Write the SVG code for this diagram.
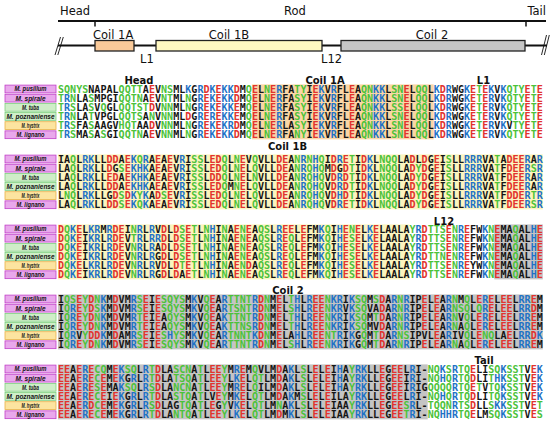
<svg xmlns="http://www.w3.org/2000/svg" width="550" height="424" viewBox="0 0 550 424">
<style>
.t{font-family:"DejaVu Sans",sans-serif;font-size:11.5px;fill:#111}
.h{font-family:"DejaVu Sans",sans-serif;font-weight:bold;font-size:10px;fill:#111;text-anchor:middle}
.s{font-family:"DejaVu Sans Mono",monospace;font-weight:bold;font-size:10.07px;fill:#151515}
.r{fill:#e2332e}.b{fill:#1f72c6}.g{fill:#4cc23a}
.l{font-family:"Liberation Sans",Arial,sans-serif;font-weight:bold;font-style:italic;font-size:7px;fill:#111;text-anchor:middle}
.pk{fill:#e9a8ec;stroke:#c040c8;stroke-width:0.8}
.gn{fill:#cfeec8;stroke:#80d080;stroke-width:0.8}
.yw{fill:#fce4a0;stroke:#e8b048;stroke-width:0.8}
.ln{stroke:#111;fill:none}
.box{stroke:#222;stroke-width:1.3}
</style>
<rect width="550" height="424" fill="#fff"/>
<g id="connectors">
<line class="ln" x1="58" y1="21" x2="546" y2="21" stroke-width="1.8"/>
<line class="ln" x1="95" y1="21" x2="95" y2="26.5" stroke-width="1.5"/>
<line class="ln" x1="526" y1="21" x2="526" y2="26.5" stroke-width="1.5"/>
<line class="ln" x1="58" y1="45.5" x2="547" y2="45.5" stroke-width="2"/>
<path class="ln" d="M55 55 L60.5 37 M57.8 55 L63.3 37" stroke-width="0.9"/>
<path class="ln" d="M541.5 55 L546.5 35 M544.3 55 L549.3 35" stroke-width="0.9"/>
</g>
<g id="top-labels">
<text class="t" x="60" y="15">Head</text>
<text class="t" x="295" y="15" text-anchor="middle">Rod</text>
<text class="t" x="546" y="15" text-anchor="end">Tail</text>
<text class="t" x="140" y="62.5">L1</text>
<text class="t" x="321" y="62.5">L12</text>
</g>
<g id="coil1a-box"><rect class="box" x="95" y="40.5" width="39" height="10.5" fill="#f9c999"/><text class="t" x="93" y="38.8">Coil 1A</text></g>
<g id="coil1b-box"><rect class="box" x="156" y="40.5" width="166" height="10.5" fill="#fff8c2"/><text class="t" x="229" y="38.8" text-anchor="middle">Coil 1B</text></g>
<g id="coil2-box"><rect class="box" x="341" y="40.5" width="184" height="10.5" fill="#c6c6c6"/><text class="t" x="432" y="38.8" text-anchor="middle">Coil 2</text></g>

<g id="block1">
<rect x="251.9" y="84.4" width="181.8" height="55" fill="#f9d6a6"/>
<text class="h" x="139" y="83.5">Head</text><text class="h" x="325" y="83.5">Coil 1A</text><text class="h" x="483.5" y="83.5">L1</text>
<g id="b1-pusillum"><rect class="pk" x="5" y="85.1" width="51" height="7.8"/><text class="l" x="30.5" y="91.4" textLength="32" lengthAdjust="spacingAndGlyphs">M. pusillum</text>
<text class="s" x="58" y="92.6" textLength="484.8" lengthAdjust="spacing"><tspan class="g">SQNYS</tspan>NAPAL<tspan class="g">QQTT</tspan>A<tspan class="r">E</tspan>V<tspan class="g">NS</tspan>ML<tspan class="b">K</tspan>G<tspan class="b">R</tspan><tspan class="r">D</tspan><tspan class="b">K</tspan><tspan class="r">E</tspan><tspan class="b">KK</tspan><tspan class="r">D</tspan>M<tspan class="g">Q</tspan><tspan class="r">E</tspan>L<tspan class="g">N</tspan><tspan class="r">E</tspan><tspan class="b">R</tspan>FA<tspan class="g">TY</tspan>I<tspan class="r">E</tspan><tspan class="b">K</tspan>V<tspan class="b">R</tspan>FL<tspan class="r">E</tspan>A<tspan class="g">QN</tspan><tspan class="b">KK</tspan>L<tspan class="g">SN</tspan><tspan class="r">E</tspan>L<tspan class="g">QQ</tspan>L<tspan class="b">K</tspan><tspan class="r">D</tspan><tspan class="b">R</tspan>WG<tspan class="b">K</tspan><tspan class="r">E</tspan><tspan class="g">T</tspan><tspan class="r">E</tspan><tspan class="b">K</tspan>V<tspan class="b">K</tspan><tspan class="g">QTY</tspan><tspan class="r">E</tspan><tspan class="g">T</tspan><tspan class="r">E</tspan></text></g>
<g id="b1-spirale"><rect class="pk" x="5" y="94.25" width="51" height="7.8"/><text class="l" x="30.5" y="100.55" textLength="30" lengthAdjust="spacingAndGlyphs">M. spirale</text>
<text class="s" x="58" y="101.75" textLength="484.8" lengthAdjust="spacing"><tspan class="g">T</tspan><tspan class="b">R</tspan><tspan class="g">N</tspan>LA<tspan class="g">S</tspan>MPGI<tspan class="g">QQTN</tspan>A<tspan class="r">E</tspan>V<tspan class="g">NT</tspan>ML<tspan class="g">N</tspan>G<tspan class="b">R</tspan><tspan class="r">E</tspan><tspan class="b">K</tspan><tspan class="r">E</tspan><tspan class="b">KK</tspan><tspan class="r">D</tspan>M<tspan class="g">Q</tspan><tspan class="r">E</tspan>L<tspan class="g">N</tspan><tspan class="r">E</tspan><tspan class="b">R</tspan>FA<tspan class="g">SY</tspan>I<tspan class="r">E</tspan><tspan class="b">K</tspan>V<tspan class="b">R</tspan>FL<tspan class="r">E</tspan>A<tspan class="g">QN</tspan><tspan class="b">KK</tspan>L<tspan class="g">SN</tspan><tspan class="r">E</tspan>L<tspan class="g">QQ</tspan>L<tspan class="b">K</tspan><tspan class="r">D</tspan><tspan class="b">R</tspan>WG<tspan class="b">K</tspan><tspan class="r">E</tspan><tspan class="g">T</tspan><tspan class="r">E</tspan><tspan class="b">R</tspan>V<tspan class="b">K</tspan><tspan class="g">QTY</tspan><tspan class="r">E</tspan><tspan class="g">T</tspan><tspan class="r">E</tspan></text></g>
<g id="b1-tuba"><rect class="gn" x="5" y="103.4" width="51" height="7.8"/><text class="l" x="30.5" y="109.7" textLength="17" lengthAdjust="spacingAndGlyphs">M. tuba</text>
<text class="s" x="58" y="110.9" textLength="484.8" lengthAdjust="spacing"><tspan class="g">T</tspan><tspan class="b">R</tspan><tspan class="g">S</tspan>LA<tspan class="g">S</tspan>V<tspan class="g">Q</tspan>GL<tspan class="g">QQTST</tspan><tspan class="r">D</tspan>V<tspan class="g">NN</tspan>ML<tspan class="g">N</tspan>G<tspan class="b">R</tspan><tspan class="r">E</tspan><tspan class="b">K</tspan><tspan class="r">E</tspan><tspan class="b">KK</tspan><tspan class="r">E</tspan>M<tspan class="g">Q</tspan><tspan class="r">E</tspan>L<tspan class="g">N</tspan><tspan class="r">E</tspan><tspan class="b">R</tspan>FA<tspan class="g">SY</tspan>I<tspan class="r">E</tspan><tspan class="b">K</tspan>V<tspan class="b">R</tspan>FL<tspan class="r">E</tspan>A<tspan class="g">QN</tspan><tspan class="b">KK</tspan>L<tspan class="g">SS</tspan><tspan class="r">E</tspan>L<tspan class="g">QQ</tspan>L<tspan class="b">K</tspan><tspan class="r">D</tspan><tspan class="b">R</tspan>WG<tspan class="b">K</tspan><tspan class="r">E</tspan><tspan class="g">T</tspan><tspan class="r">E</tspan><tspan class="b">R</tspan>V<tspan class="b">K</tspan><tspan class="g">QTY</tspan><tspan class="r">E</tspan><tspan class="g">T</tspan><tspan class="r">E</tspan></text></g>
<g id="b1-poznaniense"><rect class="gn" x="5" y="112.55" width="51" height="7.8"/><text class="l" x="30.5" y="118.85" textLength="48" lengthAdjust="spacingAndGlyphs">M. poznaniense</text>
<text class="s" x="58" y="120.05" textLength="484.8" lengthAdjust="spacing"><tspan class="g">T</tspan><tspan class="b">R</tspan><tspan class="g">N</tspan>LA<tspan class="g">T</tspan>VPGL<tspan class="g">QQTS</tspan>A<tspan class="g">N</tspan>V<tspan class="g">NN</tspan>ML<tspan class="r">D</tspan>G<tspan class="b">R</tspan><tspan class="r">E</tspan><tspan class="b">R</tspan><tspan class="r">E</tspan><tspan class="b">KK</tspan><tspan class="r">E</tspan>M<tspan class="g">Q</tspan><tspan class="r">E</tspan>L<tspan class="g">N</tspan><tspan class="r">E</tspan><tspan class="b">R</tspan>FA<tspan class="g">SY</tspan>I<tspan class="r">E</tspan><tspan class="b">K</tspan>V<tspan class="b">R</tspan>FL<tspan class="r">E</tspan>A<tspan class="g">QN</tspan><tspan class="b">KK</tspan>L<tspan class="g">SN</tspan><tspan class="r">E</tspan>L<tspan class="g">QQ</tspan>L<tspan class="b">K</tspan><tspan class="r">D</tspan><tspan class="b">R</tspan>WG<tspan class="b">K</tspan><tspan class="r">E</tspan><tspan class="g">T</tspan><tspan class="r">E</tspan><tspan class="b">R</tspan>V<tspan class="b">K</tspan><tspan class="g">QTY</tspan><tspan class="r">E</tspan><tspan class="g">T</tspan><tspan class="r">E</tspan></text></g>
<g id="b1-hystrix"><rect class="yw" x="5" y="121.7" width="51" height="7.8"/><text class="l" x="30.5" y="128" textLength="18" lengthAdjust="spacingAndGlyphs">M. hystrix</text>
<text class="s" x="58" y="129.2" textLength="484.8" lengthAdjust="spacing"><tspan class="g">T</tspan><tspan class="b">R</tspan><tspan class="g">S</tspan>FA<tspan class="g">S</tspan>AAGV<tspan class="g">HQT</tspan>AA<tspan class="r">D</tspan>V<tspan class="g">NN</tspan>ML<tspan class="g">N</tspan>G<tspan class="b">R</tspan><tspan class="r">E</tspan><tspan class="b">K</tspan><tspan class="r">E</tspan><tspan class="b">KR</tspan><tspan class="r">D</tspan>M<tspan class="g">Q</tspan><tspan class="r">E</tspan>L<tspan class="g">N</tspan><tspan class="r">E</tspan><tspan class="b">R</tspan>LA<tspan class="g">SY</tspan>I<tspan class="r">E</tspan><tspan class="b">K</tspan>V<tspan class="b">R</tspan>FL<tspan class="r">E</tspan>A<tspan class="g">QN</tspan><tspan class="b">KK</tspan>L<tspan class="g">SN</tspan><tspan class="r">E</tspan>L<tspan class="g">QQ</tspan>L<tspan class="b">K</tspan><tspan class="r">D</tspan><tspan class="b">R</tspan>WG<tspan class="b">K</tspan><tspan class="r">E</tspan><tspan class="g">T</tspan><tspan class="r">E</tspan><tspan class="b">R</tspan>V<tspan class="b">K</tspan>V<tspan class="g">TY</tspan><tspan class="r">E</tspan><tspan class="g">T</tspan><tspan class="r">E</tspan></text></g>
<g id="b1-lignano"><rect class="pk" x="5" y="130.85" width="51" height="7.8"/><text class="l" x="30.5" y="137.15" textLength="28" lengthAdjust="spacingAndGlyphs">M. lignano</text>
<text class="s" x="58" y="138.35" textLength="484.8" lengthAdjust="spacing"><tspan class="g">T</tspan><tspan class="b">R</tspan><tspan class="g">S</tspan>MA<tspan class="g">S</tspan>A<tspan class="g">S</tspan>GI<tspan class="g">QQTN</tspan>A<tspan class="r">E</tspan>V<tspan class="g">NN</tspan>ML<tspan class="g">N</tspan>G<tspan class="b">R</tspan><tspan class="r">E</tspan><tspan class="b">K</tspan><tspan class="r">E</tspan><tspan class="b">KK</tspan><tspan class="r">D</tspan>M<tspan class="g">Q</tspan><tspan class="r">E</tspan>L<tspan class="g">N</tspan><tspan class="r">E</tspan><tspan class="b">R</tspan>FA<tspan class="g">NY</tspan>I<tspan class="r">E</tspan><tspan class="b">K</tspan>V<tspan class="b">R</tspan>FL<tspan class="r">E</tspan>A<tspan class="g">QN</tspan><tspan class="b">KK</tspan>L<tspan class="g">SN</tspan><tspan class="r">E</tspan>L<tspan class="g">QQ</tspan>L<tspan class="b">K</tspan><tspan class="r">D</tspan><tspan class="b">R</tspan>WG<tspan class="b">K</tspan><tspan class="r">E</tspan><tspan class="g">T</tspan><tspan class="r">E</tspan><tspan class="b">R</tspan>V<tspan class="b">K</tspan><tspan class="g">QTY</tspan><tspan class="r">E</tspan><tspan class="g">T</tspan><tspan class="r">E</tspan></text></g>
</g>

<g id="block2" transform="translate(0,70)">
<rect x="58" y="84.4" width="484.8" height="55" fill="#fbf4bf"/>
<text class="h" x="287.5" y="79.5">Coil 1B</text>
<g id="b2-pusillum"><rect class="pk" x="5" y="85.1" width="51" height="7.8"/><text class="l" x="30.5" y="91.4" textLength="32" lengthAdjust="spacingAndGlyphs">M. pusillum</text>
<text class="s" x="58" y="92.6" textLength="484.8" lengthAdjust="spacing">IA<tspan class="g">Q</tspan>L<tspan class="b">RK</tspan>LL<tspan class="r">DD</tspan>A<tspan class="r">E</tspan><tspan class="b">K</tspan><tspan class="g">Q</tspan><tspan class="b">R</tspan>A<tspan class="r">E</tspan>A<tspan class="r">E</tspan>V<tspan class="b">R</tspan>I<tspan class="g">SS</tspan>L<tspan class="r">ED</tspan><tspan class="g">Q</tspan>L<tspan class="g">N</tspan><tspan class="r">E</tspan>V<tspan class="g">Q</tspan>VLL<tspan class="r">DE</tspan>A<tspan class="g">N</tspan><tspan class="b">R</tspan><tspan class="g">N</tspan><tspan class="b">H</tspan><tspan class="g">Q</tspan>I<tspan class="r">D</tspan><tspan class="b">R</tspan><tspan class="r">E</tspan><tspan class="g">T</tspan>I<tspan class="r">D</tspan><tspan class="b">K</tspan>L<tspan class="g">NQQ</tspan>LA<tspan class="r">D</tspan>L<tspan class="r">D</tspan>G<tspan class="r">E</tspan>I<tspan class="g">S</tspan>LL<tspan class="b">RRR</tspan>VA<tspan class="g">T</tspan>A<tspan class="r">DEE</tspan><tspan class="b">R</tspan>A<tspan class="b">R</tspan></text></g>
<g id="b2-spirale"><rect class="pk" x="5" y="94.25" width="51" height="7.8"/><text class="l" x="30.5" y="100.55" textLength="30" lengthAdjust="spacingAndGlyphs">M. spirale</text>
<text class="s" x="58" y="101.75" textLength="484.8" lengthAdjust="spacing">LA<tspan class="g">Q</tspan>L<tspan class="b">RK</tspan>LL<tspan class="r">D</tspan>G<tspan class="g">S</tspan><tspan class="r">E</tspan><tspan class="b">KHK</tspan>A<tspan class="r">E</tspan>A<tspan class="r">E</tspan>V<tspan class="b">R</tspan>I<tspan class="g">SS</tspan>L<tspan class="r">ED</tspan><tspan class="g">Q</tspan>L<tspan class="g">N</tspan><tspan class="r">E</tspan>L<tspan class="g">Q</tspan>VLL<tspan class="r">DE</tspan>A<tspan class="g">N</tspan><tspan class="b">R</tspan><tspan class="g">Q</tspan><tspan class="b">H</tspan><tspan class="g">Q</tspan>M<tspan class="r">D</tspan>G<tspan class="r">D</tspan><tspan class="g">T</tspan>I<tspan class="r">D</tspan><tspan class="b">K</tspan>L<tspan class="g">NQQ</tspan>LA<tspan class="r">D</tspan><tspan class="g">Y</tspan><tspan class="r">D</tspan>G<tspan class="r">E</tspan>I<tspan class="g">S</tspan>LL<tspan class="b">RRR</tspan>VA<tspan class="g">T</tspan>F<tspan class="r">DEE</tspan><tspan class="b">R</tspan><tspan class="g">S</tspan><tspan class="b">R</tspan></text></g>
<g id="b2-tuba"><rect class="gn" x="5" y="103.4" width="51" height="7.8"/><text class="l" x="30.5" y="109.7" textLength="17" lengthAdjust="spacingAndGlyphs">M. tuba</text>
<text class="s" x="58" y="110.9" textLength="484.8" lengthAdjust="spacing">LA<tspan class="g">Q</tspan>L<tspan class="b">RK</tspan>LL<tspan class="r">ED</tspan>A<tspan class="r">E</tspan><tspan class="b">KHK</tspan>A<tspan class="r">E</tspan>A<tspan class="r">E</tspan>V<tspan class="b">R</tspan>I<tspan class="g">SS</tspan>L<tspan class="r">DD</tspan><tspan class="g">Q</tspan>L<tspan class="g">N</tspan><tspan class="r">E</tspan>L<tspan class="g">N</tspan>VLL<tspan class="r">DE</tspan>A<tspan class="g">N</tspan><tspan class="b">R</tspan><tspan class="g">Q</tspan><tspan class="b">H</tspan><tspan class="g">Q</tspan>V<tspan class="r">D</tspan><tspan class="b">R</tspan><tspan class="r">D</tspan><tspan class="g">T</tspan>I<tspan class="r">D</tspan><tspan class="b">K</tspan>L<tspan class="g">NQQ</tspan>LA<tspan class="r">D</tspan><tspan class="g">Y</tspan><tspan class="r">D</tspan>G<tspan class="r">E</tspan>I<tspan class="g">S</tspan>LL<tspan class="b">RRR</tspan>VA<tspan class="g">T</tspan>F<tspan class="r">DEE</tspan><tspan class="b">R</tspan>A<tspan class="b">R</tspan></text></g>
<g id="b2-poznaniense"><rect class="gn" x="5" y="112.55" width="51" height="7.8"/><text class="l" x="30.5" y="118.85" textLength="48" lengthAdjust="spacingAndGlyphs">M. poznaniense</text>
<text class="s" x="58" y="120.05" textLength="484.8" lengthAdjust="spacing">LA<tspan class="g">Q</tspan>L<tspan class="b">RK</tspan>LL<tspan class="r">DD</tspan>A<tspan class="r">E</tspan><tspan class="b">KHK</tspan>A<tspan class="r">E</tspan>A<tspan class="r">E</tspan>V<tspan class="b">R</tspan>I<tspan class="g">SS</tspan>L<tspan class="r">ED</tspan><tspan class="g">Q</tspan>M<tspan class="g">N</tspan><tspan class="r">E</tspan>L<tspan class="g">Q</tspan>VLL<tspan class="r">DE</tspan>A<tspan class="g">N</tspan><tspan class="b">R</tspan><tspan class="g">Q</tspan><tspan class="b">H</tspan><tspan class="g">Q</tspan>V<tspan class="r">D</tspan><tspan class="b">R</tspan><tspan class="r">D</tspan><tspan class="g">T</tspan>I<tspan class="r">D</tspan><tspan class="b">K</tspan>L<tspan class="g">NQQ</tspan>LA<tspan class="r">D</tspan><tspan class="g">Y</tspan><tspan class="r">D</tspan>G<tspan class="r">E</tspan>I<tspan class="g">S</tspan>LL<tspan class="b">RRR</tspan>VA<tspan class="g">T</tspan>F<tspan class="r">DEE</tspan><tspan class="b">R</tspan>A<tspan class="b">R</tspan></text></g>
<g id="b2-hystrix"><rect class="yw" x="5" y="121.7" width="51" height="7.8"/><text class="l" x="30.5" y="128" textLength="18" lengthAdjust="spacingAndGlyphs">M. hystrix</text>
<text class="s" x="58" y="129.2" textLength="484.8" lengthAdjust="spacing">L<tspan class="g">NQ</tspan>L<tspan class="b">RK</tspan>LLG<tspan class="r">D</tspan><tspan class="g">S</tspan><tspan class="r">D</tspan><tspan class="b">K</tspan><tspan class="g">Y</tspan><tspan class="b">K</tspan>A<tspan class="r">D</tspan><tspan class="g">S</tspan><tspan class="r">E</tspan>V<tspan class="b">R</tspan>I<tspan class="g">SS</tspan>L<tspan class="r">ED</tspan><tspan class="g">Q</tspan>L<tspan class="g">N</tspan><tspan class="r">E</tspan>L<tspan class="g">Q</tspan>VLL<tspan class="r">DE</tspan>A<tspan class="g">N</tspan><tspan class="b">R</tspan><tspan class="g">Q</tspan><tspan class="b">H</tspan><tspan class="g">Q</tspan>V<tspan class="r">D</tspan><tspan class="b">H</tspan><tspan class="r">D</tspan><tspan class="g">T</tspan>I<tspan class="r">D</tspan><tspan class="b">K</tspan>L<tspan class="g">NQQ</tspan>LA<tspan class="r">D</tspan><tspan class="g">Y</tspan><tspan class="r">D</tspan>G<tspan class="r">E</tspan>I<tspan class="g">S</tspan>LL<tspan class="b">RRR</tspan>VA<tspan class="g">T</tspan>F<tspan class="r">DDE</tspan><tspan class="b">R</tspan><tspan class="g">T</tspan><tspan class="b">R</tspan></text></g>
<g id="b2-lignano"><rect class="pk" x="5" y="130.85" width="51" height="7.8"/><text class="l" x="30.5" y="137.15" textLength="28" lengthAdjust="spacingAndGlyphs">M. lignano</text>
<text class="s" x="58" y="138.35" textLength="484.8" lengthAdjust="spacing">LA<tspan class="g">Q</tspan>L<tspan class="b">RK</tspan>LL<tspan class="r">DD</tspan><tspan class="g">S</tspan><tspan class="r">E</tspan><tspan class="b">K</tspan><tspan class="g">Q</tspan><tspan class="b">K</tspan>A<tspan class="r">E</tspan>A<tspan class="r">E</tspan>V<tspan class="b">R</tspan>I<tspan class="g">SS</tspan>L<tspan class="r">ED</tspan><tspan class="g">Q</tspan>L<tspan class="g">N</tspan><tspan class="r">E</tspan>L<tspan class="g">Q</tspan>VLL<tspan class="r">DE</tspan>A<tspan class="g">N</tspan><tspan class="b">R</tspan><tspan class="g">Q</tspan><tspan class="b">H</tspan><tspan class="g">Q</tspan>V<tspan class="r">D</tspan><tspan class="b">R</tspan><tspan class="r">E</tspan><tspan class="g">T</tspan>I<tspan class="r">D</tspan><tspan class="b">K</tspan>L<tspan class="g">NQQ</tspan>LA<tspan class="r">D</tspan><tspan class="g">Y</tspan><tspan class="r">D</tspan>G<tspan class="r">E</tspan>I<tspan class="g">S</tspan>LL<tspan class="b">RRR</tspan>VA<tspan class="g">T</tspan>F<tspan class="r">DEE</tspan><tspan class="b">R</tspan><tspan class="g">S</tspan><tspan class="b">R</tspan></text></g>
</g>

<g id="block3" transform="translate(0,140)">
<rect x="58" y="84.4" width="351.5" height="55" fill="#fbf4bf"/>
<rect x="494.3" y="84.4" width="48.5" height="55" fill="#c4c4c4"/>
<text class="h" x="444" y="84.8">L12</text>
<g id="b3-pusillum"><rect class="pk" x="5" y="85.1" width="51" height="7.8"/><text class="l" x="30.5" y="91.4" textLength="32" lengthAdjust="spacingAndGlyphs">M. pusillum</text>
<text class="s" x="58" y="92.6" textLength="484.8" lengthAdjust="spacing"><tspan class="r">D</tspan><tspan class="g">Q</tspan><tspan class="b">K</tspan><tspan class="r">E</tspan>L<tspan class="b">KR</tspan>M<tspan class="b">R</tspan><tspan class="r">DE</tspan>I<tspan class="g">N</tspan><tspan class="b">R</tspan>L<tspan class="b">R</tspan>V<tspan class="r">D</tspan>L<tspan class="r">D</tspan><tspan class="g">S</tspan><tspan class="r">E</tspan><tspan class="g">T</tspan>L<tspan class="g">N</tspan><tspan class="b">H</tspan>I<tspan class="g">N</tspan>A<tspan class="r">E</tspan><tspan class="g">N</tspan><tspan class="r">E</tspan>A<tspan class="g">QS</tspan>L<tspan class="b">R</tspan><tspan class="r">EE</tspan>L<tspan class="r">E</tspan>FM<tspan class="b">K</tspan><tspan class="g">Q</tspan>I<tspan class="b">H</tspan><tspan class="r">E</tspan><tspan class="g">N</tspan><tspan class="r">E</tspan>L<tspan class="b">K</tspan><tspan class="r">E</tspan>LAALA<tspan class="g">Y</tspan><tspan class="b">R</tspan><tspan class="r">D</tspan><tspan class="g">TTS</tspan><tspan class="r">E</tspan><tspan class="g">N</tspan><tspan class="b">R</tspan><tspan class="r">E</tspan>FW<tspan class="b">K</tspan><tspan class="g">N</tspan><tspan class="r">E</tspan>MA<tspan class="g">Q</tspan>AL<tspan class="b">H</tspan><tspan class="r">E</tspan></text></g>
<g id="b3-spirale"><rect class="pk" x="5" y="94.25" width="51" height="7.8"/><text class="l" x="30.5" y="100.55" textLength="30" lengthAdjust="spacingAndGlyphs">M. spirale</text>
<text class="s" x="58" y="101.75" textLength="484.8" lengthAdjust="spacing"><tspan class="r">D</tspan><tspan class="g">Q</tspan><tspan class="b">K</tspan><tspan class="r">E</tspan>I<tspan class="b">KR</tspan>L<tspan class="b">R</tspan><tspan class="r">DE</tspan>V<tspan class="g">T</tspan><tspan class="b">R</tspan>L<tspan class="b">RR</tspan><tspan class="r">D</tspan>L<tspan class="r">D</tspan><tspan class="g">S</tspan><tspan class="r">E</tspan><tspan class="g">T</tspan>L<tspan class="g">N</tspan><tspan class="b">H</tspan>I<tspan class="g">N</tspan>A<tspan class="r">E</tspan><tspan class="g">N</tspan><tspan class="r">E</tspan>A<tspan class="g">QS</tspan>L<tspan class="b">R</tspan><tspan class="r">E</tspan><tspan class="g">Q</tspan>L<tspan class="r">E</tspan>FM<tspan class="b">K</tspan><tspan class="g">Q</tspan>I<tspan class="b">H</tspan><tspan class="r">E</tspan><tspan class="g">S</tspan><tspan class="r">E</tspan>L<tspan class="b">K</tspan><tspan class="r">E</tspan>LAALA<tspan class="g">Y</tspan><tspan class="b">R</tspan><tspan class="r">D</tspan><tspan class="g">TTS</tspan><tspan class="r">E</tspan><tspan class="g">N</tspan><tspan class="b">R</tspan><tspan class="r">E</tspan>FW<tspan class="b">K</tspan><tspan class="g">N</tspan><tspan class="r">E</tspan>MA<tspan class="g">Q</tspan>AL<tspan class="b">H</tspan><tspan class="r">E</tspan></text></g>
<g id="b3-tuba"><rect class="gn" x="5" y="103.4" width="51" height="7.8"/><text class="l" x="30.5" y="109.7" textLength="17" lengthAdjust="spacingAndGlyphs">M. tuba</text>
<text class="s" x="58" y="110.9" textLength="484.8" lengthAdjust="spacing"><tspan class="r">D</tspan><tspan class="g">Q</tspan><tspan class="b">K</tspan><tspan class="r">E</tspan>I<tspan class="b">KR</tspan>L<tspan class="b">R</tspan><tspan class="r">DE</tspan>V<tspan class="g">N</tspan><tspan class="b">R</tspan>L<tspan class="b">R</tspan>A<tspan class="r">D</tspan>L<tspan class="r">D</tspan><tspan class="g">S</tspan><tspan class="r">E</tspan><tspan class="g">T</tspan>L<tspan class="g">N</tspan><tspan class="b">H</tspan>I<tspan class="g">N</tspan>A<tspan class="r">E</tspan><tspan class="g">N</tspan><tspan class="r">E</tspan>A<tspan class="g">QS</tspan>L<tspan class="b">R</tspan><tspan class="r">E</tspan><tspan class="g">Q</tspan>L<tspan class="r">E</tspan>FM<tspan class="b">K</tspan><tspan class="g">Q</tspan>I<tspan class="b">H</tspan><tspan class="r">E</tspan><tspan class="g">S</tspan><tspan class="r">E</tspan>L<tspan class="b">K</tspan><tspan class="r">E</tspan>LAALA<tspan class="g">Y</tspan><tspan class="b">R</tspan><tspan class="r">D</tspan><tspan class="g">TTS</tspan><tspan class="r">E</tspan><tspan class="g">N</tspan><tspan class="b">R</tspan><tspan class="r">E</tspan>FW<tspan class="b">K</tspan><tspan class="g">N</tspan><tspan class="r">E</tspan>MA<tspan class="g">Q</tspan>AL<tspan class="b">H</tspan><tspan class="r">E</tspan></text></g>
<g id="b3-poznaniense"><rect class="gn" x="5" y="112.55" width="51" height="7.8"/><text class="l" x="30.5" y="118.85" textLength="48" lengthAdjust="spacingAndGlyphs">M. poznaniense</text>
<text class="s" x="58" y="120.05" textLength="484.8" lengthAdjust="spacing"><tspan class="r">D</tspan><tspan class="g">Q</tspan><tspan class="b">K</tspan><tspan class="r">E</tspan>I<tspan class="b">KR</tspan>L<tspan class="b">R</tspan><tspan class="r">DE</tspan>V<tspan class="g">N</tspan><tspan class="b">R</tspan>L<tspan class="b">R</tspan>G<tspan class="r">D</tspan>L<tspan class="r">D</tspan><tspan class="g">S</tspan><tspan class="r">E</tspan><tspan class="g">T</tspan>L<tspan class="g">N</tspan><tspan class="b">H</tspan>I<tspan class="g">N</tspan>A<tspan class="r">E</tspan><tspan class="g">N</tspan><tspan class="r">E</tspan>A<tspan class="g">QS</tspan>L<tspan class="b">R</tspan><tspan class="r">E</tspan><tspan class="g">Q</tspan>L<tspan class="r">E</tspan>FM<tspan class="b">K</tspan><tspan class="g">Q</tspan>I<tspan class="b">H</tspan><tspan class="r">E</tspan><tspan class="g">S</tspan><tspan class="r">E</tspan>L<tspan class="b">K</tspan><tspan class="r">E</tspan>LAALA<tspan class="g">Y</tspan><tspan class="b">R</tspan><tspan class="r">D</tspan><tspan class="g">TTN</tspan><tspan class="r">E</tspan><tspan class="g">N</tspan><tspan class="b">R</tspan><tspan class="r">E</tspan>FW<tspan class="b">K</tspan><tspan class="g">N</tspan><tspan class="r">E</tspan>MA<tspan class="g">Q</tspan>AL<tspan class="b">H</tspan><tspan class="r">E</tspan></text></g>
<g id="b3-hystrix"><rect class="yw" x="5" y="121.7" width="51" height="7.8"/><text class="l" x="30.5" y="128" textLength="18" lengthAdjust="spacingAndGlyphs">M. hystrix</text>
<text class="s" x="58" y="129.2" textLength="484.8" lengthAdjust="spacing"><tspan class="r">D</tspan><tspan class="g">Q</tspan><tspan class="b">K</tspan><tspan class="r">E</tspan>L<tspan class="b">KR</tspan>L<tspan class="b">R</tspan><tspan class="r">DE</tspan>V<tspan class="g">N</tspan><tspan class="b">R</tspan>L<tspan class="b">R</tspan>V<tspan class="r">D</tspan>L<tspan class="r">D</tspan><tspan class="g">T</tspan><tspan class="r">E</tspan><tspan class="g">T</tspan>L<tspan class="g">N</tspan><tspan class="b">H</tspan>I<tspan class="g">N</tspan>A<tspan class="r">E</tspan><tspan class="g">N</tspan><tspan class="r">D</tspan>A<tspan class="g">QS</tspan>L<tspan class="b">R</tspan><tspan class="r">E</tspan><tspan class="g">Q</tspan>L<tspan class="r">E</tspan>FM<tspan class="b">K</tspan><tspan class="g">Q</tspan>I<tspan class="b">H</tspan><tspan class="r">E</tspan><tspan class="g">S</tspan><tspan class="r">E</tspan>L<tspan class="b">K</tspan><tspan class="r">E</tspan>LAALA<tspan class="g">Y</tspan><tspan class="b">R</tspan><tspan class="r">D</tspan><tspan class="g">TTS</tspan><tspan class="r">E</tspan><tspan class="g">N</tspan><tspan class="b">R</tspan><tspan class="r">E</tspan>YW<tspan class="b">K</tspan><tspan class="g">N</tspan><tspan class="r">E</tspan>MA<tspan class="g">Q</tspan>AL<tspan class="b">H</tspan><tspan class="r">E</tspan></text></g>
<g id="b3-lignano"><rect class="pk" x="5" y="130.85" width="51" height="7.8"/><text class="l" x="30.5" y="137.15" textLength="28" lengthAdjust="spacingAndGlyphs">M. lignano</text>
<text class="s" x="58" y="138.35" textLength="484.8" lengthAdjust="spacing"><tspan class="r">D</tspan><tspan class="g">Q</tspan><tspan class="b">K</tspan><tspan class="r">E</tspan>I<tspan class="b">KR</tspan>L<tspan class="b">R</tspan><tspan class="r">DE</tspan>V<tspan class="g">N</tspan><tspan class="b">R</tspan>L<tspan class="b">R</tspan>G<tspan class="r">D</tspan>L<tspan class="r">D</tspan>A<tspan class="r">E</tspan><tspan class="g">T</tspan>L<tspan class="g">N</tspan><tspan class="b">H</tspan>I<tspan class="g">N</tspan>A<tspan class="r">E</tspan><tspan class="g">N</tspan><tspan class="r">E</tspan>A<tspan class="g">QS</tspan>L<tspan class="b">R</tspan><tspan class="r">E</tspan><tspan class="g">Q</tspan>L<tspan class="r">E</tspan>FM<tspan class="b">K</tspan><tspan class="g">Q</tspan>I<tspan class="b">H</tspan><tspan class="r">E</tspan><tspan class="g">S</tspan><tspan class="r">E</tspan>L<tspan class="b">K</tspan><tspan class="r">E</tspan>LAALA<tspan class="g">Y</tspan><tspan class="b">R</tspan><tspan class="r">D</tspan><tspan class="g">TTS</tspan><tspan class="r">E</tspan><tspan class="g">N</tspan><tspan class="b">R</tspan><tspan class="r">E</tspan>FW<tspan class="b">K</tspan><tspan class="g">N</tspan><tspan class="r">E</tspan>MA<tspan class="g">Q</tspan>AL<tspan class="b">H</tspan><tspan class="r">E</tspan></text></g>
</g>

<g id="block4" transform="translate(0,210)">
<rect x="58" y="84.4" width="484.8" height="55" fill="#c4c4c4"/>
<text class="h" x="288" y="84">Coil 2</text>
<g id="b4-pusillum"><rect class="pk" x="5" y="85.1" width="51" height="7.8"/><text class="l" x="30.5" y="91.4" textLength="32" lengthAdjust="spacingAndGlyphs">M. pusillum</text>
<text class="s" x="58" y="92.6" textLength="484.8" lengthAdjust="spacing">I<tspan class="g">QS</tspan><tspan class="r">E</tspan><tspan class="g">Y</tspan><tspan class="r">D</tspan><tspan class="g">N</tspan><tspan class="b">K</tspan>M<tspan class="r">D</tspan>VM<tspan class="b">R</tspan><tspan class="g">S</tspan><tspan class="r">E</tspan>I<tspan class="r">E</tspan><tspan class="g">SQYS</tspan>M<tspan class="b">K</tspan>V<tspan class="g">Q</tspan><tspan class="r">E</tspan>A<tspan class="b">R</tspan><tspan class="g">TTNT</tspan><tspan class="b">R</tspan><tspan class="r">D</tspan><tspan class="g">N</tspan>M<tspan class="r">E</tspan>L<tspan class="g">T</tspan><tspan class="b">H</tspan>L<tspan class="b">R</tspan><tspan class="r">EE</tspan><tspan class="g">N</tspan><tspan class="b">KR</tspan>I<tspan class="b">K</tspan><tspan class="g">SQ</tspan>M<tspan class="g">S</tspan><tspan class="r">D</tspan>A<tspan class="b">R</tspan><tspan class="g">N</tspan><tspan class="b">R</tspan>IP<tspan class="r">E</tspan>L<tspan class="r">E</tspan>A<tspan class="b">R</tspan><tspan class="g">N</tspan>M<tspan class="g">Q</tspan>L<tspan class="r">E</tspan><tspan class="b">R</tspan><tspan class="r">E</tspan>L<tspan class="r">EE</tspan>L<tspan class="b">RR</tspan><tspan class="r">E</tspan>M</text></g>
<g id="b4-spirale"><rect class="pk" x="5" y="94.25" width="51" height="7.8"/><text class="l" x="30.5" y="100.55" textLength="30" lengthAdjust="spacingAndGlyphs">M. spirale</text>
<text class="s" x="58" y="101.75" textLength="484.8" lengthAdjust="spacing">I<tspan class="g">Q</tspan><tspan class="b">R</tspan><tspan class="r">E</tspan><tspan class="g">Y</tspan><tspan class="r">D</tspan><tspan class="g">S</tspan><tspan class="b">K</tspan>M<tspan class="r">D</tspan>VM<tspan class="b">R</tspan><tspan class="g">S</tspan><tspan class="r">E</tspan>I<tspan class="r">E</tspan><tspan class="g">SQYS</tspan>M<tspan class="b">K</tspan>V<tspan class="g">Q</tspan><tspan class="r">E</tspan>A<tspan class="b">R</tspan><tspan class="g">TSNT</tspan><tspan class="b">R</tspan><tspan class="r">D</tspan><tspan class="g">N</tspan>M<tspan class="r">E</tspan>L<tspan class="g">S</tspan><tspan class="b">H</tspan>L<tspan class="b">R</tspan><tspan class="r">EE</tspan><tspan class="g">N</tspan><tspan class="b">KR</tspan>V<tspan class="b">K</tspan><tspan class="g">SQ</tspan>VA<tspan class="r">D</tspan>A<tspan class="b">R</tspan><tspan class="g">N</tspan><tspan class="b">R</tspan>IP<tspan class="r">E</tspan>L<tspan class="r">E</tspan>A<tspan class="b">R</tspan><tspan class="g">NSQ</tspan>L<tspan class="g">Q</tspan><tspan class="b">R</tspan><tspan class="r">E</tspan>L<tspan class="r">EE</tspan>L<tspan class="b">RR</tspan><tspan class="r">D</tspan>M</text></g>
<g id="b4-tuba"><rect class="gn" x="5" y="103.4" width="51" height="7.8"/><text class="l" x="30.5" y="109.7" textLength="17" lengthAdjust="spacingAndGlyphs">M. tuba</text>
<text class="s" x="58" y="110.9" textLength="484.8" lengthAdjust="spacing">I<tspan class="g">Q</tspan><tspan class="b">R</tspan><tspan class="r">E</tspan><tspan class="g">Y</tspan><tspan class="r">D</tspan><tspan class="g">N</tspan><tspan class="b">K</tspan>M<tspan class="r">D</tspan>VM<tspan class="b">R</tspan><tspan class="g">T</tspan><tspan class="r">E</tspan>I<tspan class="r">E</tspan>A<tspan class="g">QYS</tspan>M<tspan class="b">K</tspan>V<tspan class="g">Q</tspan><tspan class="r">E</tspan>A<tspan class="b">K</tspan><tspan class="g">TTNT</tspan><tspan class="b">R</tspan><tspan class="r">D</tspan><tspan class="g">N</tspan>M<tspan class="r">E</tspan>L<tspan class="g">T</tspan><tspan class="b">H</tspan>L<tspan class="b">R</tspan><tspan class="r">EE</tspan><tspan class="g">N</tspan><tspan class="b">KR</tspan>I<tspan class="b">K</tspan><tspan class="g">SQ</tspan>M<tspan class="g">T</tspan><tspan class="r">D</tspan>A<tspan class="b">R</tspan><tspan class="g">N</tspan><tspan class="b">R</tspan>IP<tspan class="r">E</tspan>L<tspan class="r">E</tspan>A<tspan class="b">R</tspan><tspan class="g">N</tspan>V<tspan class="g">Q</tspan>L<tspan class="r">E</tspan><tspan class="b">R</tspan><tspan class="r">E</tspan>L<tspan class="r">EE</tspan>L<tspan class="b">RR</tspan><tspan class="r">E</tspan>M</text></g>
<g id="b4-poznaniense"><rect class="gn" x="5" y="112.55" width="51" height="7.8"/><text class="l" x="30.5" y="118.85" textLength="48" lengthAdjust="spacingAndGlyphs">M. poznaniense</text>
<text class="s" x="58" y="120.05" textLength="484.8" lengthAdjust="spacing">I<tspan class="g">Q</tspan><tspan class="b">R</tspan><tspan class="r">E</tspan><tspan class="g">Y</tspan><tspan class="r">D</tspan><tspan class="g">N</tspan><tspan class="b">K</tspan>M<tspan class="r">D</tspan>VM<tspan class="b">R</tspan><tspan class="g">T</tspan><tspan class="r">E</tspan>I<tspan class="r">E</tspan>A<tspan class="g">QYS</tspan>M<tspan class="b">K</tspan>V<tspan class="g">Q</tspan><tspan class="r">E</tspan>A<tspan class="b">K</tspan><tspan class="g">TTNS</tspan><tspan class="b">R</tspan><tspan class="r">D</tspan><tspan class="g">N</tspan>M<tspan class="r">E</tspan>L<tspan class="g">T</tspan><tspan class="b">H</tspan>L<tspan class="b">R</tspan><tspan class="r">EE</tspan><tspan class="g">N</tspan><tspan class="b">KR</tspan>I<tspan class="b">K</tspan><tspan class="g">SQ</tspan>MV<tspan class="r">D</tspan>A<tspan class="b">R</tspan><tspan class="g">N</tspan><tspan class="b">R</tspan>IP<tspan class="r">E</tspan>L<tspan class="r">E</tspan>A<tspan class="b">R</tspan><tspan class="g">N</tspan>A<tspan class="g">Q</tspan>L<tspan class="r">E</tspan><tspan class="b">R</tspan><tspan class="r">E</tspan>L<tspan class="r">EE</tspan>L<tspan class="b">RR</tspan><tspan class="r">E</tspan>M</text></g>
<g id="b4-hystrix"><rect class="yw" x="5" y="121.7" width="51" height="7.8"/><text class="l" x="30.5" y="128" textLength="18" lengthAdjust="spacingAndGlyphs">M. hystrix</text>
<text class="s" x="58" y="129.2" textLength="484.8" lengthAdjust="spacing">I<tspan class="g">Q</tspan><tspan class="b">R</tspan>V<tspan class="g">Y</tspan><tspan class="r">DD</tspan><tspan class="b">K</tspan>M<tspan class="r">D</tspan>AM<tspan class="b">R</tspan><tspan class="g">S</tspan><tspan class="r">E</tspan>I<tspan class="r">E</tspan><tspan class="g">S</tspan><tspan class="b">H</tspan><tspan class="g">YS</tspan>M<tspan class="b">K</tspan>V<tspan class="g">Q</tspan><tspan class="r">E</tspan>A<tspan class="b">R</tspan><tspan class="g">TNNT</tspan><tspan class="b">K</tspan><tspan class="r">D</tspan><tspan class="g">N</tspan>M<tspan class="r">E</tspan>LA<tspan class="b">H</tspan>L<tspan class="b">R</tspan><tspan class="r">EE</tspan><tspan class="g">NT</tspan><tspan class="b">R</tspan>I<tspan class="b">K</tspan>G<tspan class="g">Q</tspan>M<tspan class="g">T</tspan><tspan class="r">D</tspan>A<tspan class="b">R</tspan><tspan class="g">NS</tspan>IPVL<tspan class="r">E</tspan>A<tspan class="b">R</tspan>IV<tspan class="g">Q</tspan>L<tspan class="r">E</tspan><tspan class="g">NQ</tspan>LA<tspan class="r">E</tspan>L<tspan class="b">RR</tspan><tspan class="r">D</tspan><tspan class="b">K</tspan></text></g>
<g id="b4-lignano"><rect class="pk" x="5" y="130.85" width="51" height="7.8"/><text class="l" x="30.5" y="137.15" textLength="28" lengthAdjust="spacingAndGlyphs">M. lignano</text>
<text class="s" x="58" y="138.35" textLength="484.8" lengthAdjust="spacing">I<tspan class="g">Q</tspan><tspan class="b">R</tspan><tspan class="r">E</tspan><tspan class="g">Y</tspan><tspan class="r">D</tspan><tspan class="g">N</tspan><tspan class="b">K</tspan>M<tspan class="r">D</tspan>VM<tspan class="b">R</tspan><tspan class="g">S</tspan><tspan class="r">E</tspan>I<tspan class="r">E</tspan><tspan class="g">SQYS</tspan>M<tspan class="b">K</tspan>V<tspan class="g">Q</tspan><tspan class="r">E</tspan>A<tspan class="b">R</tspan><tspan class="g">TTNT</tspan><tspan class="b">R</tspan><tspan class="r">D</tspan><tspan class="g">N</tspan>M<tspan class="r">E</tspan>L<tspan class="g">S</tspan><tspan class="b">H</tspan>L<tspan class="b">R</tspan><tspan class="r">EE</tspan><tspan class="g">N</tspan><tspan class="b">KR</tspan>I<tspan class="b">K</tspan>G<tspan class="g">Q</tspan>M<tspan class="g">T</tspan><tspan class="r">D</tspan>A<tspan class="b">R</tspan><tspan class="g">N</tspan><tspan class="b">R</tspan>IP<tspan class="r">E</tspan>L<tspan class="r">E</tspan>A<tspan class="b">R</tspan><tspan class="g">N</tspan>A<tspan class="g">Q</tspan>L<tspan class="r">E</tspan><tspan class="b">R</tspan><tspan class="r">E</tspan>L<tspan class="r">EE</tspan>L<tspan class="b">RR</tspan><tspan class="r">E</tspan>M</text></g>
</g>

<g id="block5" transform="translate(0,280)">
<rect x="58" y="84.4" width="369.7" height="55" fill="#c4c4c4"/>
<text class="h" x="484" y="84">Tail</text>
<g id="b5-pusillum"><rect class="pk" x="5" y="85.1" width="51" height="7.8"/><text class="l" x="30.5" y="91.4" textLength="32" lengthAdjust="spacingAndGlyphs">M. pusillum</text>
<text class="s" x="58" y="92.6" textLength="484.8" lengthAdjust="spacing"><tspan class="r">EE</tspan>A<tspan class="r">E</tspan><tspan class="b">R</tspan><tspan class="r">E</tspan><tspan class="g">CQ</tspan>M<tspan class="r">E</tspan><tspan class="b">K</tspan><tspan class="g">SQ</tspan>L<tspan class="b">R</tspan><tspan class="g">T</tspan><tspan class="r">D</tspan>LA<tspan class="g">SCN</tspan>A<tspan class="g">T</tspan>L<tspan class="r">EE</tspan><tspan class="g">Y</tspan>M<tspan class="b">R</tspan><tspan class="r">E</tspan>M<tspan class="g">Q</tspan>VLM<tspan class="r">D</tspan>A<tspan class="b">K</tspan>L<tspan class="g">S</tspan>L<tspan class="r">E</tspan>L<tspan class="r">E</tspan>I<tspan class="b">H</tspan>A<tspan class="g">Y</tspan><tspan class="b">RK</tspan>LL<tspan class="r">E</tspan>G<tspan class="r">EE</tspan>L<tspan class="b">R</tspan>I-<tspan class="g">NQ</tspan><tspan class="b">K</tspan><tspan class="g">S</tspan><tspan class="b">R</tspan><tspan class="g">TQ</tspan><tspan class="r">E</tspan>LI<tspan class="g">SQ</tspan><tspan class="b">K</tspan><tspan class="g">SST</tspan>V<tspan class="r">E</tspan><tspan class="b">K</tspan></text></g>
<g id="b5-spirale"><rect class="pk" x="5" y="94.25" width="51" height="7.8"/><text class="l" x="30.5" y="100.55" textLength="30" lengthAdjust="spacingAndGlyphs">M. spirale</text>
<text class="s" x="58" y="101.75" textLength="484.8" lengthAdjust="spacing"><tspan class="r">EE</tspan>A<tspan class="r">E</tspan><tspan class="b">R</tspan><tspan class="r">E</tspan><tspan class="g">C</tspan><tspan class="r">E</tspan>M<tspan class="r">E</tspan><tspan class="b">K</tspan>G<tspan class="b">R</tspan>L<tspan class="b">R</tspan><tspan class="g">T</tspan><tspan class="r">D</tspan>LA<tspan class="g">TSQ</tspan>A<tspan class="g">T</tspan>L<tspan class="r">EE</tspan><tspan class="g">Y</tspan>L<tspan class="b">K</tspan><tspan class="r">E</tspan>L<tspan class="g">QT</tspan>LM<tspan class="r">D</tspan>A<tspan class="b">K</tspan>L<tspan class="g">S</tspan>L<tspan class="r">E</tspan>L<tspan class="r">E</tspan>I<tspan class="b">H</tspan>A<tspan class="g">Y</tspan><tspan class="b">RK</tspan>LL<tspan class="r">E</tspan>G<tspan class="r">EE</tspan>I<tspan class="b">R</tspan>I-<tspan class="g">NQ</tspan><tspan class="b">H</tspan><tspan class="g">Q</tspan><tspan class="b">R</tspan><tspan class="g">TQ</tspan><tspan class="r">D</tspan>LI<tspan class="g">T</tspan><tspan class="b">HK</tspan><tspan class="g">SST</tspan>V<tspan class="r">E</tspan><tspan class="b">K</tspan></text></g>
<g id="b5-tuba"><rect class="gn" x="5" y="103.4" width="51" height="7.8"/><text class="l" x="30.5" y="109.7" textLength="17" lengthAdjust="spacingAndGlyphs">M. tuba</text>
<text class="s" x="58" y="110.9" textLength="484.8" lengthAdjust="spacing"><tspan class="r">EE</tspan>A<tspan class="r">E</tspan><tspan class="b">R</tspan><tspan class="r">E</tspan><tspan class="g">S</tspan><tspan class="r">E</tspan>MA<tspan class="b">K</tspan><tspan class="g">SQ</tspan>L<tspan class="b">R</tspan><tspan class="g">S</tspan><tspan class="r">D</tspan>LA<tspan class="g">NCN</tspan>A<tspan class="g">T</tspan>L<tspan class="r">EE</tspan><tspan class="g">Y</tspan>M<tspan class="b">R</tspan><tspan class="r">E</tspan>L<tspan class="g">Q</tspan>ILM<tspan class="r">D</tspan>A<tspan class="b">K</tspan>L<tspan class="g">S</tspan>L<tspan class="r">E</tspan>L<tspan class="r">E</tspan>I<tspan class="b">H</tspan>A<tspan class="g">Y</tspan><tspan class="b">RK</tspan>LL<tspan class="r">E</tspan>G<tspan class="r">EE</tspan>I<tspan class="b">R</tspan>IG<tspan class="g">QQQQ</tspan><tspan class="b">R</tspan><tspan class="g">TQ</tspan><tspan class="r">E</tspan><tspan class="g">T</tspan>V<tspan class="g">TQ</tspan><tspan class="b">K</tspan><tspan class="g">SST</tspan>V<tspan class="r">E</tspan><tspan class="b">K</tspan></text></g>
<g id="b5-poznaniense"><rect class="gn" x="5" y="112.55" width="51" height="7.8"/><text class="l" x="30.5" y="118.85" textLength="48" lengthAdjust="spacingAndGlyphs">M. poznaniense</text>
<text class="s" x="58" y="120.05" textLength="484.8" lengthAdjust="spacing"><tspan class="r">EE</tspan>A<tspan class="r">E</tspan><tspan class="b">R</tspan><tspan class="r">E</tspan><tspan class="g">C</tspan><tspan class="r">E</tspan>I<tspan class="r">E</tspan><tspan class="b">K</tspan>G<tspan class="b">R</tspan>L<tspan class="b">R</tspan><tspan class="g">T</tspan><tspan class="r">D</tspan>LA<tspan class="g">STQ</tspan>A<tspan class="g">T</tspan>LV<tspan class="r">E</tspan><tspan class="g">Y</tspan>M<tspan class="b">K</tspan><tspan class="r">E</tspan>L<tspan class="g">QT</tspan>LM<tspan class="r">D</tspan>A<tspan class="b">K</tspan>M<tspan class="g">S</tspan>L<tspan class="r">E</tspan>L<tspan class="r">E</tspan>ILA<tspan class="g">Y</tspan><tspan class="b">RK</tspan>LL<tspan class="r">E</tspan>G<tspan class="r">EE</tspan>L<tspan class="b">R</tspan>I-<tspan class="g">NQ</tspan><tspan class="b">H</tspan><tspan class="g">Q</tspan><tspan class="b">R</tspan><tspan class="g">TQ</tspan><tspan class="r">D</tspan>LI<tspan class="g">TQ</tspan><tspan class="b">K</tspan><tspan class="g">SST</tspan>V<tspan class="r">E</tspan><tspan class="b">K</tspan></text></g>
<g id="b5-hystrix"><rect class="yw" x="5" y="121.7" width="51" height="7.8"/><text class="l" x="30.5" y="128" textLength="18" lengthAdjust="spacingAndGlyphs">M. hystrix</text>
<text class="s" x="58" y="129.2" textLength="484.8" lengthAdjust="spacing"><tspan class="r">EE</tspan>A<tspan class="r">E</tspan><tspan class="b">R</tspan><tspan class="r">D</tspan><tspan class="g">C</tspan><tspan class="r">E</tspan>M<tspan class="r">E</tspan><tspan class="b">K</tspan>G<tspan class="b">R</tspan>L<tspan class="b">R</tspan><tspan class="g">S</tspan><tspan class="r">D</tspan>LAG<tspan class="g">TQ</tspan>A<tspan class="g">T</tspan>L<tspan class="r">E</tspan>G<tspan class="g">Y</tspan>V<tspan class="b">K</tspan><tspan class="r">E</tspan>L<tspan class="g">QT</tspan>LM<tspan class="g">N</tspan>A<tspan class="b">K</tspan>L<tspan class="g">S</tspan>L<tspan class="r">E</tspan>L<tspan class="r">E</tspan>IAA<tspan class="g">Y</tspan><tspan class="b">RK</tspan>LL<tspan class="r">E</tspan>G<tspan class="r">EE</tspan><tspan class="g">S</tspan><tspan class="b">R</tspan>L-<tspan class="g">TQQN</tspan><tspan class="b">R</tspan><tspan class="g">TS</tspan><tspan class="r">D</tspan>LL<tspan class="g">S</tspan><tspan class="b">KK</tspan><tspan class="g">SST</tspan>V<tspan class="r">E</tspan><tspan class="g">T</tspan></text></g>
<g id="b5-lignano"><rect class="pk" x="5" y="130.85" width="51" height="7.8"/><text class="l" x="30.5" y="137.15" textLength="28" lengthAdjust="spacingAndGlyphs">M. lignano</text>
<text class="s" x="58" y="138.35" textLength="484.8" lengthAdjust="spacing"><tspan class="r">EE</tspan>A<tspan class="r">E</tspan><tspan class="b">R</tspan><tspan class="r">E</tspan><tspan class="g">C</tspan><tspan class="r">E</tspan>M<tspan class="r">E</tspan><tspan class="b">K</tspan>G<tspan class="b">R</tspan>L<tspan class="b">R</tspan><tspan class="g">T</tspan><tspan class="r">D</tspan>LA<tspan class="g">NTQ</tspan>A<tspan class="g">T</tspan>L<tspan class="r">EE</tspan><tspan class="g">Y</tspan>L<tspan class="b">K</tspan><tspan class="r">E</tspan>L<tspan class="g">QT</tspan>LM<tspan class="r">D</tspan>M<tspan class="b">K</tspan>L<tspan class="g">S</tspan>L<tspan class="r">E</tspan>L<tspan class="r">E</tspan>IAA<tspan class="g">Y</tspan><tspan class="b">RK</tspan>LL<tspan class="r">E</tspan>G<tspan class="r">EE</tspan><tspan class="g">T</tspan><tspan class="b">R</tspan>I-<tspan class="g">NQ</tspan><tspan class="b">HHR</tspan><tspan class="g">TQ</tspan><tspan class="r">E</tspan>LM<tspan class="g">SQ</tspan><tspan class="b">K</tspan><tspan class="g">SST</tspan>V<tspan class="r">E</tspan><tspan class="g">S</tspan></text></g>
</g>
</svg>
